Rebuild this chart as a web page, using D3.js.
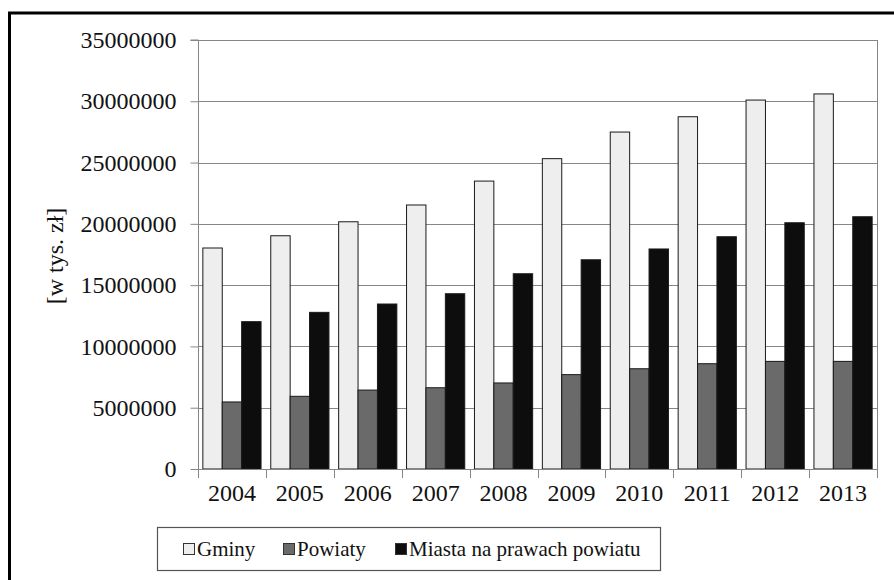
<!DOCTYPE html>
<html><head><meta charset="utf-8">
<script src="https://cdn.jsdelivr.net/npm/d3@7"></script>
<style>body{margin:0;background:#fff}svg{display:block}
svg text{font-family:"Liberation Serif","Times New Roman",Tinos,"DejaVu Serif",serif !important;}
</style>
</head><body>
<svg id="c" width="894" height="580"></svg>
<script>
const years = ["2004","2005","2006","2007","2008","2009","2010","2011","2012","2013"];
const seriesNames = ["Gminy","Powiaty","Miasta na prawach powiatu"];
const gminy = [18030000,19030000,20170000,21540000,23490000,25320000,27490000,28740000,30100000,30600000];
const powiaty = [5470000,5930000,6440000,6630000,7020000,7700000,8180000,8590000,8780000,8780000];
const miasta = [12020000,12780000,13460000,14300000,15930000,17070000,17950000,18950000,20090000,20580000];
const yTicks = [0,5000000,10000000,15000000,20000000,25000000,30000000,35000000];
const colors = ["#eeeeee","#6a6a6a","#0d0d0d"];
const yTitle = "[w tys. zł]";

const svg = d3.select("#c");
const L=198, R=877, T=40, B=469;

svg.append("rect").attr("x",9.5).attr("y",13).attr("width",900).attr("height",600)
  .attr("fill","none").attr("stroke","#000").attr("stroke-width",3);

const x = d3.scaleBand().domain(years).range([L,R]).paddingInner(0).paddingOuter(0);
const y = d3.scaleLinear().domain([0,35000000]).range([B,T]);
const xs = d3.scaleBand().domain(seriesNames).range([0,x.bandwidth()]).paddingInner(0).paddingOuter(0.25);

svg.append("g").selectAll("line").data(yTicks.slice(1)).join("line")
  .attr("x1",L).attr("x2",R).attr("y1",d=>Math.round(y(d))+0.5).attr("y2",d=>Math.round(y(d))+0.5)
  .attr("stroke","#868686").attr("stroke-width",1);
svg.append("line").attr("x1",R+0.5).attr("x2",R+0.5).attr("y1",T).attr("y2",B)
  .attr("stroke","#868686");

const data = [gminy,powiaty,miasta];
seriesNames.forEach((s,i)=>{
  svg.append("g").selectAll("rect").data(years).join("rect")
    .attr("x",(d)=>x(d)+xs(s))
    .attr("y",(d,j)=>y(data[i][j]))
    .attr("width",xs.bandwidth())
    .attr("height",(d,j)=>B-y(data[i][j]))
    .attr("fill",colors[i]).attr("stroke","#1a1a1a").attr("stroke-width",1);
});

const ya = svg.append("g").attr("transform",`translate(${L+0.5},0)`)
  .call(d3.axisLeft(y).tickValues(yTicks).tickFormat(d3.format("d")).tickSize(8).tickPadding(14));
ya.select(".domain").attr("stroke","#868686").attr("d",`M-8,${T}H0V${B}`);
ya.selectAll(".tick line").attr("stroke","#868686");
ya.selectAll("text").attr("font-size",24).attr("fill","#111");

const xa = svg.append("g").attr("transform",`translate(0,${B+0.5})`)
  .call(d3.axisBottom(x).tickSize(0).tickPadding(14));
xa.select(".domain").attr("stroke","#868686").attr("d",`M${L},0H${R}`);
xa.selectAll(".tick line").remove();
xa.selectAll("text").attr("font-size",24).attr("fill","#111");
svg.append("g").selectAll("line").data(years.concat(["end"])).join("line")
  .attr("x1",(d,i)=>Math.round(i<years.length?x(d):R)+0.5)
  .attr("x2",(d,i)=>Math.round(i<years.length?x(d):R)+0.5)
  .attr("y1",B).attr("y2",B+9).attr("stroke","#868686");

svg.append("text").attr("transform","translate(63,256) rotate(-90)")
  .attr("text-anchor","middle").attr("font-size",24).attr("fill","#111")
  .text(yTitle);

const lg = svg.append("g");
lg.append("rect").attr("x",157.5).attr("y",527.5).attr("width",503).attr("height",43)
  .attr("fill","#fff").attr("stroke","#555").attr("stroke-width",1.2);
const legX = [183, 283, 395];
seriesNames.forEach((s,i)=>{
  lg.append("rect").attr("x",legX[i]+0.5).attr("y",543.5).attr("width",11).attr("height",11)
    .attr("fill",colors[i]).attr("stroke","#333");
  lg.append("text").attr("x",legX[i]+14).attr("y",556).attr("font-size",21)
    .attr("fill","#111").text(s);
});
</script>
</body></html>
